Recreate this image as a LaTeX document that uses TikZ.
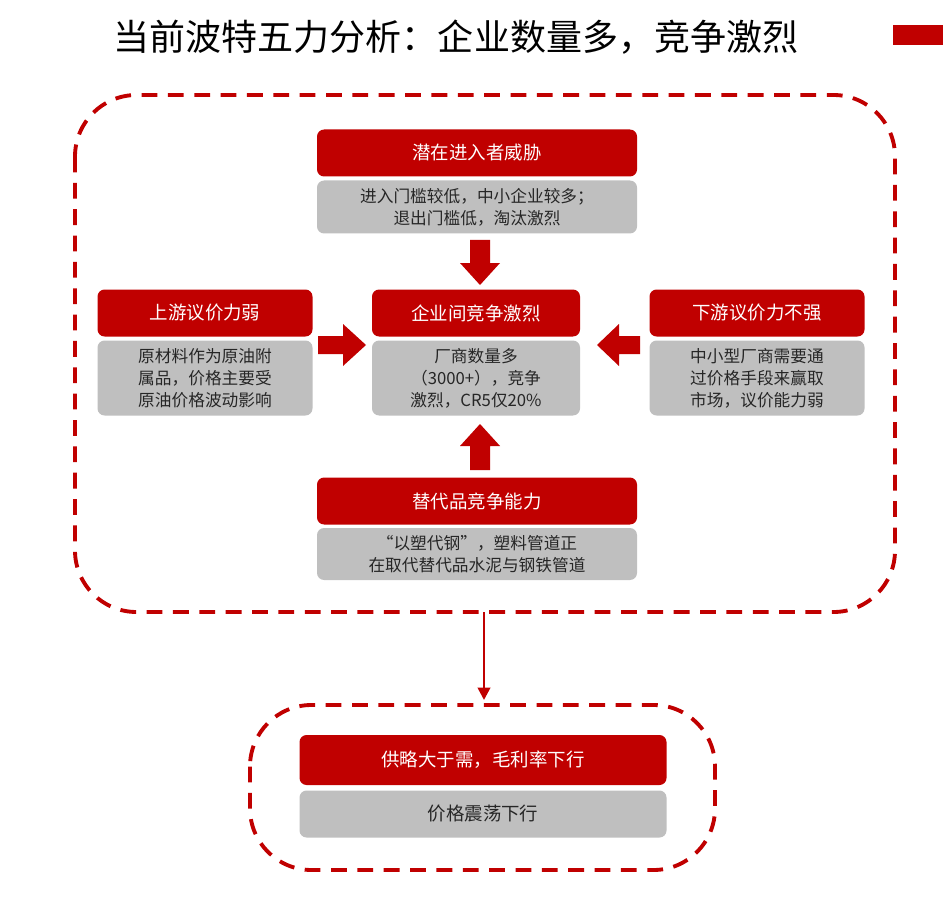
\documentclass[tikz,border=0pt]{standalone}
\usepackage{fontspec}
\setmainfont{Noto Sans CJK SC}
\usetikzlibrary{arrows.meta}
\definecolor{myred}{HTML}{C00000}
\definecolor{mygray}{HTML}{BFBFBF}
\begin{document}
\begin{tikzpicture}[x=0.02cm,y=-0.02cm,
 hdr/.style={fill=myred,rounded corners=4pt,text=white,font=\fontsize{10.5pt}{12pt}\selectfont,inner sep=0},
 body/.style={fill=mygray,rounded corners=4pt,text=black!85,font=\fontsize{9.5pt}{12.5pt}\selectfont,align=center,inner sep=0},
 dashbox/.style={draw=myred,line width=2.2pt,dash pattern=on 9pt off 6pt,rounded corners=35pt},
 blk/.style={fill=myred}]
\useasboundingbox (0,0) rectangle (943,902);
\node[font=\fontsize{20.5pt}{24pt}\selectfont] (title) at (456,37) {当前波特五力分析：企业数量多，竞争激烈};
\fill[myred] (893,25) rectangle (943,45);
\draw[dashbox] (75,95) rectangle (895,612);
% top
\node[hdr,minimum width=320*0.02cm,minimum height=47*0.02cm] (th) at (477,153) {潜在进入者威胁};
\node[body,minimum width=320*0.02cm,minimum height=53*0.02cm] (tb) at (477,207) {进入门槛较低，中小企业较多；\\退出门槛低，淘汰激烈};
% left
\node[hdr,minimum width=215*0.02cm,minimum height=47*0.02cm] (lh) at (205,313) {上游议价力弱};
\node[body,minimum width=215*0.02cm,minimum height=75*0.02cm] (lb) at (205,378) {原材料作为原油附\\属品，价格主要受\\原油价格波动影响};
% center
\node[hdr,minimum width=208*0.02cm,minimum height=47*0.02cm] (ch) at (476,313) {企业间竞争激烈};
\node[body,minimum width=208*0.02cm,minimum height=75*0.02cm] (cb) at (476,378) {厂商数量多\\（3000+），竞争\\激烈，CR5仅20\%};
% right
\node[hdr,minimum width=215*0.02cm,minimum height=47*0.02cm] (rh) at (757,313) {下游议价力不强};
\node[body,minimum width=215*0.02cm,minimum height=75*0.02cm] (rb) at (757,378) {中小型厂商需要通\\过价格手段来赢取\\市场，议价能力弱};
% bottom
\node[hdr,minimum width=320*0.02cm,minimum height=47*0.02cm] (bh) at (477,501) {替代品竞争能力};
\node[body,minimum width=320*0.02cm,minimum height=52*0.02cm] (bb) at (477,554) {“以塑代钢”，塑料管道正\\在取代替代品水泥与钢铁管道};
% block arrows
\fill[blk] (470,240) -- (490,240) -- (490,263) -- (500,263) -- (480,285) -- (460,263) -- (470,263) -- cycle;
\fill[blk] (318,336) -- (343,336) -- (343,324) -- (366,345) -- (343,366) -- (343,354) -- (318,354) -- cycle;
\fill[blk] (640,336) -- (619,336) -- (619,324) -- (597,345) -- (619,366) -- (619,354) -- (640,354) -- cycle;
\fill[blk] (470,470) -- (490,470) -- (490,446) -- (500,446) -- (480,424) -- (460,446) -- (470,446) -- cycle;
% lower
\coordinate (c1) at (484,612);
\draw[dashbox] (250,705) rectangle (715,870);
\node[hdr,minimum width=367*0.02cm,minimum height=50*0.02cm] (sh) at (483,760) {供略大于需，毛利率下行};
\node[body,minimum width=367*0.02cm,minimum height=47*0.02cm,font=\fontsize{10.5pt}{12pt}\selectfont] (sb) at (483,814) {价格震荡下行};
\coordinate (c2) at (484,700);
\draw[myred,line width=1.5pt,-{Triangle[length=7pt,width=7pt]}] (c1) -- (c2);
\end{tikzpicture}
\end{document}
